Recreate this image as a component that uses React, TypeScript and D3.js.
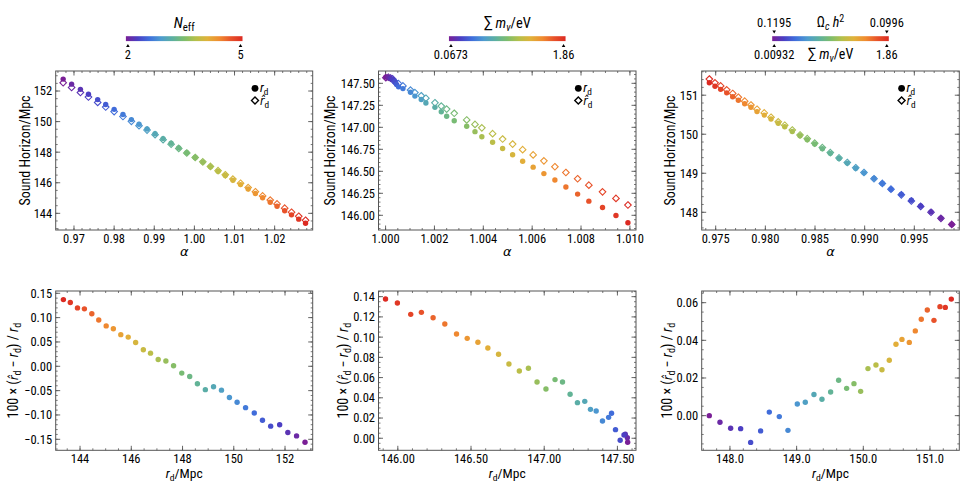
import React from 'react';
import * as d3 from 'd3';

// ---- N_eff scan (purple -> red : N_eff = 2 -> 5)
const neffAlpha = [0.9673, 0.9694, 0.9716, 0.9736, 0.9759, 0.9779, 0.9800, 0.9822, 0.9843, 0.9862, 0.9882, 0.9902, 0.9922, 0.9942, 0.9961, 0.9981,
  1.0002, 1.0021, 1.0040, 1.0059, 1.0077, 1.0096, 1.0115, 1.0134, 1.0152, 1.0170, 1.0189, 1.0206, 1.0225, 1.0242, 1.0260, 1.0277];
const neffRd = [152.78, 152.45, 152.11, 151.79, 151.44, 151.12, 150.80, 150.46, 150.13, 149.83, 149.52, 149.21, 148.89, 148.58, 148.28, 147.97,
  147.65, 147.35, 147.05, 146.75, 146.47, 146.17, 145.88, 145.59, 145.30, 145.02, 144.73, 144.46, 144.17, 143.90, 143.62, 143.35];
const neffRes = [-0.156, -0.143, -0.136, -0.120, -0.123, -0.111, -0.096, -0.085, -0.074, -0.064, -0.049, -0.042, -0.048, -0.036, -0.021, -0.014,
  0.001, 0.011, 0.014, 0.027, 0.034, 0.049, 0.060, 0.065, 0.077, 0.083, 0.095, 0.108, 0.118, 0.120, 0.131, 0.137];

// ---- sum m_nu scan (purple -> red : 0.0673 -> 1.86 eV)
const mnuAlpha = [1.00001, 1.00011, 1.00020, 1.00029, 1.00038, 1.00045, 1.00053, 1.00071, 1.00102, 1.00120, 1.00146, 1.00165, 1.00202, 1.00228, 1.00250, 1.00281,
  1.00332, 1.00366, 1.00394, 1.00438, 1.00479, 1.00520, 1.00561, 1.00604, 1.00648, 1.00693, 1.00738, 1.00786, 1.00832, 1.00888, 1.00943, 1.00992];
const mnuRd = [147.570, 147.568, 147.554, 147.545, 147.519, 147.487, 147.460, 147.440, 147.398, 147.355, 147.316, 147.277, 147.227, 147.177, 147.125, 147.074,
  147.012, 146.951, 146.892, 146.830, 146.759, 146.688, 146.615, 146.547, 146.474, 146.401, 146.321, 146.241, 146.161, 146.088, 145.997, 145.916];
const mnuRes = [-0.0040, 0.0006, 0.0039, 0.0033, -0.0020, 0.0085, 0.0247, 0.0207, 0.0171, 0.0270, 0.0286, 0.0365, 0.0352, 0.0435, 0.0556, 0.0580,
  0.0487, 0.0556, 0.0692, 0.0665, 0.0734, 0.0830, 0.0893, 0.0949, 0.0988, 0.1031, 0.1130, 0.1192, 0.1245, 0.1225, 0.1337, 0.1377];

// ---- Omega_c h^2 + sum m_nu scan (purple -> red)
const omAlpha = [0.99877, 0.99768, 0.99668, 0.99564, 0.99470, 0.99369, 0.99265, 0.99178, 0.99094, 0.98993, 0.98910, 0.98825, 0.98742, 0.98654, 0.98574, 0.98497,
  0.98422, 0.98349, 0.98271, 0.98195, 0.98130, 0.98057, 0.97989, 0.97916, 0.97855, 0.97792, 0.97728, 0.97671, 0.97611, 0.97550, 0.97493, 0.97436];
const omRd = [147.69, 147.85, 148.01, 148.16, 148.31, 148.46, 148.59, 148.74, 148.87, 149.01, 149.13, 149.26, 149.38, 149.51, 149.63, 149.75,
  149.86, 149.96, 150.07, 150.19, 150.28, 150.39, 150.49, 150.58, 150.69, 150.78, 150.87, 150.96, 151.06, 151.15, 151.23, 151.32];
const omRes = [0.0000, -0.0035, -0.0067, -0.0069, -0.0142, -0.0081, 0.0019, -0.0005, -0.0078, 0.0062, 0.0071, 0.0112, 0.0087, 0.0126, 0.0188, 0.0145,
  0.0170, 0.0129, 0.0250, 0.0269, 0.0244, 0.0294, 0.0379, 0.0405, 0.0389, 0.0450, 0.0512, 0.0561, 0.0506, 0.0579, 0.0575, 0.0619];

// colour bar end labels
const neffBarTicks = ['2', '5'];
const mnuBarTicks = ['0.0673', '1.86'];
const omchBarTicks = ['0.1195', '0.0996'];
const omMnuBarTicks = ['0.00932', '1.86'];

const rainbow = ['#7a1f96', '#4a3fc4', '#3f6fdc', '#4d9bcf', '#5cb0a0', '#7dbd6c', '#b5c04a', '#e0b23a', '#f08c30', '#e8532a', '#dc2a22'];
const color = d3.piecewise(d3.interpolateRgb, rainbow);

const FONT = "'Liberation Sans Narrow', 'Roboto Condensed', 'Liberation Sans', Arial, sans-serif";
const GREEK = "'DejaVu Sans', sans-serif";
const HATFONT = "'DejaVu Sans Condensed', 'DejaVu Sans', sans-serif";
const W = 969, H = 494;
const COLS = [[55.7, 312.7], [378.5, 636], [701.7, 959.3]];
const ROWS = [[71, 230], [291, 450.3]];

function steps(dom: number[], step: number) {
  const out: number[] = [];
  const a = Math.min(dom[0], dom[1]), b = Math.max(dom[0], dom[1]);
  for (let k = Math.ceil(a / step - 1e-9); k <= Math.floor(b / step + 1e-9); k++) out.push(+(k * step).toFixed(10));
  return out;
}

function Frame({ x, y, xMajor, xMinor, yMajor, yMinor, xFmt, yFmt }: any) {
  const [l, r] = x.range();
  const [b, t] = y.range();
  const fx = d3.format(xFmt), fy = d3.format(yFmt);
  const st = '#555';
  const lines: any[] = [];
  steps(x.domain(), xMinor).forEach((v, i) => {
    const p = x(v), L = 2;
    lines.push(<line key={'xm' + i} x1={p} x2={p} y1={b} y2={b - L} stroke={st} strokeWidth={0.8} />);
    lines.push(<line key={'xmt' + i} x1={p} x2={p} y1={t} y2={t + L} stroke={st} strokeWidth={0.8} />);
  });
  steps(x.domain(), xMajor).forEach((v, i) => {
    const p = x(v), L = 4.5;
    lines.push(<line key={'xM' + i} x1={p} x2={p} y1={b} y2={b - L} stroke={st} strokeWidth={0.9} />);
    lines.push(<line key={'xMt' + i} x1={p} x2={p} y1={t} y2={t + L} stroke={st} strokeWidth={0.9} />);
    lines.push(<text key={'xl' + i} x={p} y={b + 12.7} textAnchor="middle" fontSize={12.5}>{fx(v)}</text>);
  });
  steps(y.domain(), yMinor).forEach((v, i) => {
    const p = y(v), L = 2;
    lines.push(<line key={'ym' + i} y1={p} y2={p} x1={l} x2={l + L} stroke={st} strokeWidth={0.8} />);
    lines.push(<line key={'ymr' + i} y1={p} y2={p} x1={r} x2={r - L} stroke={st} strokeWidth={0.8} />);
  });
  steps(y.domain(), yMajor).forEach((v, i) => {
    const p = y(v), L = 4.5;
    lines.push(<line key={'yM' + i} y1={p} y2={p} x1={l} x2={l + L} stroke={st} strokeWidth={0.9} />);
    lines.push(<line key={'yMr' + i} y1={p} y2={p} x1={r} x2={r - L} stroke={st} strokeWidth={0.9} />);
    lines.push(<text key={'yl' + i} x={l - 3.5} y={p + 4.4} textAnchor="end" fontSize={12.5}>{fy(v)}</text>);
  });
  return (
    <g>
      <rect x={l} y={t} width={r - l} height={b - t} fill="none" stroke={st} strokeWidth={1} />
      {lines}
    </g>
  );
}

const diamond = (cx: number, cy: number, h: number) => `M${cx},${cy - h}L${cx + h},${cy}L${cx},${cy + h}L${cx - h},${cy}Z`;

// r_d and \hat r_d as tspans; `after` is the text that follows, back on the baseline
function Rd({ hat, x, y, after }: { hat?: boolean; x?: number; y?: number; after?: string }) {
  return (
    <>
      {hat
        ? <tspan x={x} y={y} fontStyle="italic" fontFamily={HATFONT} fontSize="0.92em">{'r\u0302'}</tspan>
        : <tspan x={x} y={y} fontStyle="italic">r</tspan>}
      <tspan fontSize="0.72em" dy={3}>d</tspan>
      {after ? <tspan dy={-3}>{after}</tspan> : null}
    </>
  );
}

function TopPanel({ col, alpha, rd, res, xDom, yDom, xMajor, xMinor, yMajor, yMinor, xFmt, yFmt, titleX }: any) {
  const [l, r] = COLS[col];
  const [t, b] = ROWS[0];
  const x = d3.scaleLinear().domain(xDom).range([l, r]);
  const y = d3.scaleLinear().domain(yDom).range([b, t]);
  const n = alpha.length;
  const cy = (t + b) / 2;
  const lx = r - 57.7;
  return (
    <g>
      <Frame x={x} y={y} xMajor={xMajor} xMinor={xMinor} yMajor={yMajor} yMinor={yMinor} xFmt={xFmt} yFmt={yFmt} />
      {alpha.map((a: number, i: number) => (
        <path key={'d' + i} d={diamond(x(a), y(rd[i] * (1 + res[i] / 100)), 3.3)} fill="#fff" stroke={color(i / (n - 1))} strokeWidth={1.1} />
      ))}
      {alpha.map((a: number, i: number) => (
        <circle key={'c' + i} cx={x(a)} cy={y(rd[i])} r={2.7} fill={color(i / (n - 1))} />
      ))}
      <circle cx={lx} cy={88.3} r={3.4} fill="#000" />
      <path d={diamond(lx, 100.6, 3.5)} fill="#fff" stroke="#000" strokeWidth={1.4} />
      <text fontSize={13}>
        <Rd x={lx + 5} y={92} />
        <Rd hat x={lx + 5} y={104.5} />
      </text>
      <text x={(l + r) / 2} y={255.5} textAnchor="middle" fontSize={13} fontStyle="italic" fontFamily={GREEK}>α</text>
      <text transform={`translate(${titleX + 4.8},${cy}) rotate(-90)`} textAnchor="middle" fontSize={14}>Sound Horizon/Mpc</text>
    </g>
  );
}

function BottomPanel({ col, rd, res, xDom, yDom, xMajor, xMinor, yMajor, yMinor, xFmt, yFmt, titleX }: any) {
  const [l, r] = COLS[col];
  const [t, b] = ROWS[1];
  const x = d3.scaleLinear().domain(xDom).range([l, r]);
  const y = d3.scaleLinear().domain(yDom).range([b, t]);
  const n = rd.length;
  const cy = (t + b) / 2;
  return (
    <g>
      <Frame x={x} y={y} xMajor={xMajor} xMinor={xMinor} yMajor={yMajor} yMinor={yMinor} xFmt={xFmt} yFmt={yFmt} />
      {rd.map((v: number, i: number) => (
        <circle key={'c' + i} cx={x(v)} cy={y(res[i])} r={2.7} fill={color(i / (n - 1))} />
      ))}
      <text x={(l + r) / 2} y={b + 27.5} textAnchor="middle" fontSize={13.5}><Rd after="/Mpc" /></text>
      <text transform={`translate(${titleX + 4.8},${cy}) rotate(-90)`} textAnchor="middle" fontSize={14}>
        <tspan>100 × (</tspan>
        <Rd hat after=" − " />
        <Rd after=") / " />
        <Rd />
      </text>
    </g>
  );
}

function Bar({ cx, id }: { cx: number; id: string }) {
  const x0 = cx - 58.3, w = 116.6;
  const stops = d3.range(0, 1.0001, 0.05);
  return (
    <g>
      <defs>
        <linearGradient id={id} x1="0" x2="1" y1="0" y2="0">
          {stops.map((s) => <stop key={s} offset={s} stopColor={color(s)} />)}
        </linearGradient>
      </defs>
      <rect x={x0} y={36.2} width={w} height={4.9} fill={`url(#${id})`} />
    </g>
  );
}

const upTri = (x: number, y: number) => `M${x - 1.8},${y + 3}L${x + 1.8},${y + 3}L${x},${y}Z`;
const downTri = (x: number, y: number) => `M${x - 1.8},${y}L${x + 1.8},${y}L${x},${y + 3}Z`;

function BottomLabels({ cx, labels }: { cx: number; labels: string[] }) {
  const xa = cx - 56.3, xb = cx + 56.3;
  return (
    <g>
      <path d={upTri(xa, 44)} fill="#000" />
      <path d={upTri(xb, 44)} fill="#000" />
      <text x={xa} y={59.3} textAnchor="middle" fontSize={12.5}>{labels[0]}</text>
      <text x={xb} y={59.3} textAnchor="middle" fontSize={12.5}>{labels[1]}</text>
    </g>
  );
}

function Mnu() {
  return (
    <>
      <tspan fontSize="1.15em">∑</tspan>
      <tspan> </tspan>
      <tspan fontStyle="italic">m</tspan>
      <tspan fontStyle="italic" fontSize="0.72em" dy={3}>ν</tspan>
      <tspan dy={-3}>/eV</tspan>
    </>
  );
}

export default function App() {
  const c1 = (COLS[0][0] + COLS[0][1]) / 2;
  const c2 = (COLS[1][0] + COLS[1][1]) / 2;
  const c3 = (COLS[2][0] + COLS[2][1]) / 2;
  return (
    <svg width={W} height={H} style={{ position: 'absolute', left: 0, top: 0, background: '#fff' }} fontFamily={FONT}>
      <rect width={W} height={H} fill="#fff" />

      {/* colour bars */}
      <Bar cx={c1} id="cb1" />
      <text x={c1} y={28} textAnchor="middle" fontSize={15}>
        <tspan fontStyle="italic">N</tspan>
        <tspan fontSize="0.72em" dy={3}>eff</tspan>
      </text>
      <BottomLabels cx={c1} labels={neffBarTicks} />

      <Bar cx={c2} id="cb2" />
      <text x={c2} y={28} textAnchor="middle" fontSize={14.5}><Mnu /></text>
      <BottomLabels cx={c2} labels={mnuBarTicks} />

      <Bar cx={c3} id="cb3" />
      <path d={downTri(c3 - 56.3, 30.5)} fill="#000" />
      <path d={downTri(c3 + 56.3, 30.5)} fill="#000" />
      <text x={c3 - 56.3} y={26.7} textAnchor="middle" fontSize={12.5}>{omchBarTicks[0]}</text>
      <text x={c3 + 56.3} y={26.7} textAnchor="middle" fontSize={12.5}>{omchBarTicks[1]}</text>
      <text x={c3} y={27} textAnchor="middle" fontSize={14}>
        <tspan>Ω</tspan>
        <tspan fontStyle="italic" fontSize="0.72em" dy={3}>c</tspan>
        <tspan fontStyle="italic" dy={-3}> h</tspan>
        <tspan fontSize="0.72em" dy={-5}>2</tspan>
      </text>
      <BottomLabels cx={c3} labels={omMnuBarTicks} />
      <text x={c3} y={59} textAnchor="middle" fontSize={14}><Mnu /></text>

      {/* top row */}
      <TopPanel col={0} alpha={neffAlpha} rd={neffRd} res={neffRes} xDom={[0.96544, 1.02948]} yDom={[142.91, 153.31]}
        xMajor={0.01} xMinor={0.002} yMajor={2} yMinor={0.5} xFmt=".2f" yFmt="d" titleX={25.3} />
      <TopPanel col={1} alpha={mnuAlpha} rd={mnuRd} res={mnuRes} xDom={[0.99971, 1.01025]} yDom={[145.833, 147.64]}
        xMajor={0.002} xMinor={0.0005} yMajor={0.25} yMinor={0.05} xFmt=".3f" yFmt=".2f" titleX={330} />
      <TopPanel col={2} alpha={omAlpha} rd={omRd} res={omRes} xDom={[0.97359, 0.99953]} yDom={[147.546, 151.62]}
        xMajor={0.005} xMinor={0.001} yMajor={1} yMinor={0.2} xFmt=".3f" yFmt="d" titleX={670.5} />

      {/* bottom row */}
      <BottomPanel col={0} rd={neffRd} res={neffRes} xDom={[143.05, 153.08]} yDom={[-0.1726, 0.1547]}
        xMajor={2} xMinor={0.5} yMajor={0.05} yMinor={0.01} xFmt="d" yFmt=".2f" titleX={13.3} />
      <BottomPanel col={1} rd={mnuRd} res={mnuRes} xDom={[145.868, 147.627]} yDom={[-0.0119, 0.1456]}
        xMajor={0.5} xMinor={0.1} yMajor={0.02} yMinor={0.005} xFmt=".2f" yFmt=".2f" titleX={343} />
      <BottomPanel col={2} rd={omRd} res={omRes} xDom={[147.576, 151.44]} yDom={[-0.0184, 0.0662]}
        xMajor={1} xMinor={0.2} yMajor={0.02} yMinor={0.005} xFmt=".1f" yFmt=".2f" titleX={666.7} />
    </svg>
  );
}
